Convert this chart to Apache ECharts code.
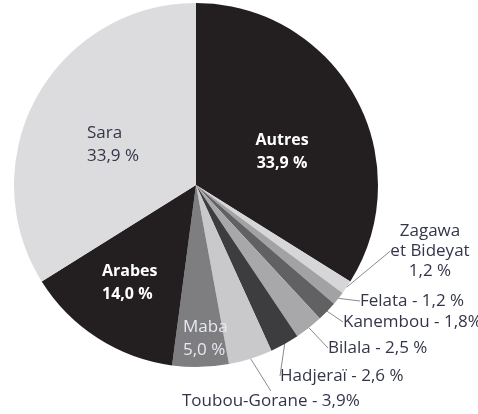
<!DOCTYPE html>
<html>
<head>
<meta charset="utf-8">
<script src="https://cdn.jsdelivr.net/npm/echarts@6/dist/echarts.min.js"></script>
<style>
  html, body { margin: 0; padding: 0; background: #fff; }
  #chart { width: 478px; height: 414px; }
</style>
</head>
<body>
<div id="chart"></div>
<script>
(function () {
    'use strict';

    // groupes ethniques, dans l'ordre horaire depuis midi
    var groups = ['Autres', 'Zagawa et Bideyat', 'Felata', 'Kanembou', 'Bilala', 'Hadjeraï', 'Toubou-Gorane', 'Maba', 'Arabes', 'Sara'];
    var shares = [33.9, 1.2, 1.2, 1.8, 2.5, 2.6, 3.9, 5.0, 14.0, 33.9];
    var labelTexts = [
        'Autres\n33,9 %',
        'Zagawa\net Bideyat\n1,2 %',
        'Felata - 1,2 %',
        'Kanembou - 1,8%',
        'Bilala - 2,5 %',
        'Hadjeraï - 2,6 %',
        'Toubou-Gorane - 3,9%',
        'Maba\n5,0 %',
        'Arabes\n14,0 %',
        'Sara\n33,9 %'
    ];

    var colors = ['#231f20', '#d6d6d8', '#a2a2a4', '#616163', '#a8a8aa', '#3d3d3f', '#c9c9cb', '#7e7e80', '#231f20', '#dcdcde'];
    var textColors = ['#ffffff', '#33364a', '#33364a', '#33364a', '#33364a', '#33364a', '#33364a', '#e6e8f2', '#ffffff', '#33364a'];
    // placement des étiquettes : [x, y, align]
    var labelPos = [
        [282, 152, 'center'],
        [430, 251, 'center'],
        [360, 301, 'left'],
        [343, 322, 'left'],
        [328, 348, 'left'],
        [280, 376, 'left'],
        [182, 401, 'left'],
        [183, 339, 'left'],
        [102, 283, 'left'],
        [87, 145, 'left']
    ];
    var insideIdx = [0, 7, 8, 9];

    var chart = echarts.init(document.getElementById('chart'), null, {renderer: 'canvas'});

    var data = groups.map(function (g, i) {
        var inside = insideIdx.indexOf(i) >= 0;
        var bold = i === 0 || i === 8;
        return {
            name: g,
            value: shares[i],
            itemStyle: { color: colors[i] },
            label: {
                formatter: labelTexts[i],
                color: textColors[i],
                fontWeight: bold ? 'bold' : 'normal',
                fontSize: bold ? 16 : 17,
                lineHeight: inside ? 23 : 20,
                align: labelPos[i][2]
            },
            labelLine: { show: !inside }
        };
    });

    var option = {
        animation: false,
        series: [{
            type: 'pie',
            center: [196, 185],
            radius: [0, 182],
            startAngle: 90,
            clockwise: true,
            avoidLabelOverlap: false,
            label: {
                show: true,
                position: 'outside',
                fontFamily: 'Open Sans'
            },
            labelLine: {
                show: true,
                length: 10,
                length2: 0,
                lineStyle: { color: '#8a8a8c', width: 1 }
            },
            labelLayout: function (p) {
                var pos = labelPos[p.dataIndex];
                return {
                    x: pos[0],
                    y: pos[1],
                    align: pos[2],
                    verticalAlign: 'middle'
                };
            },
            data: data
        }]
    };

    chart.setOption(option);
}());
</script>
</body>
</html>
